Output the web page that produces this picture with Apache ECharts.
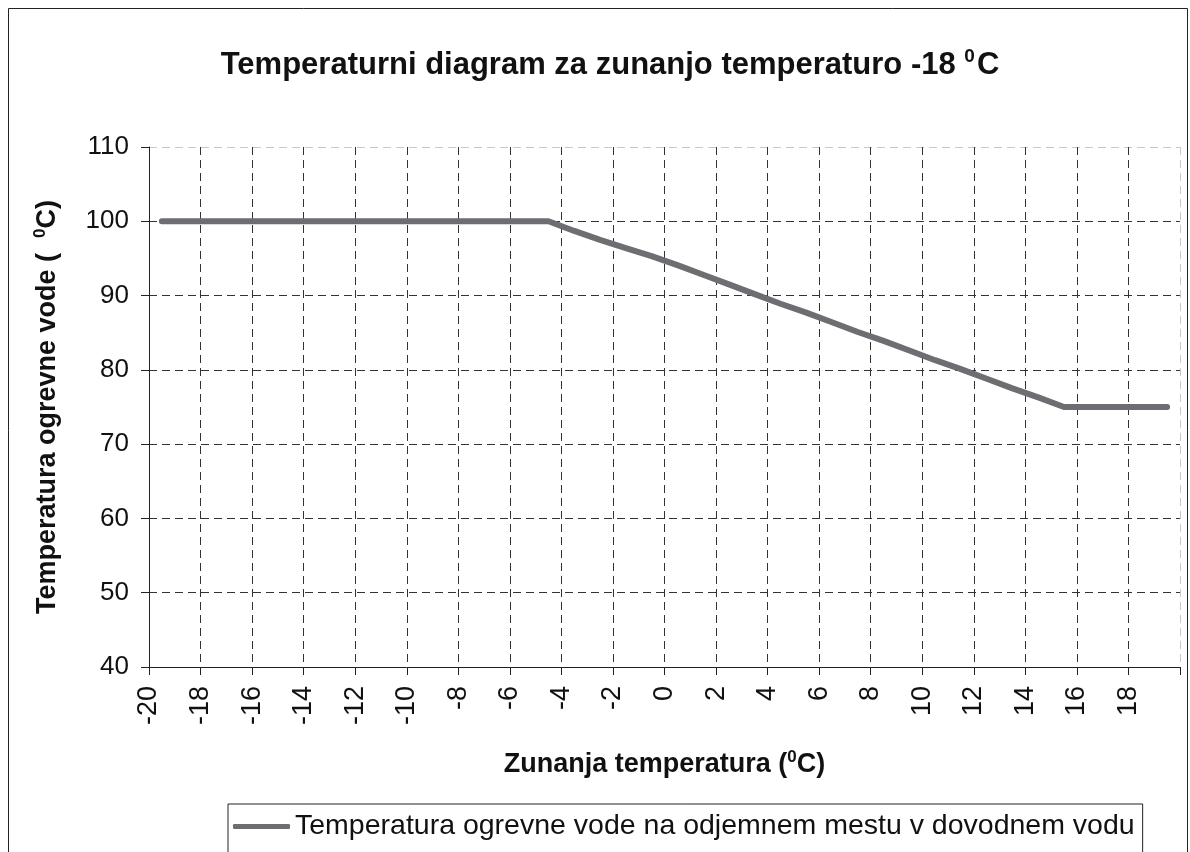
<!DOCTYPE html>
<html>
<head>
<meta charset="utf-8">
<script src="https://cdn.jsdelivr.net/npm/echarts@6/dist/echarts.min.js"></script>
<style>
  html, body { margin: 0; padding: 0; background: #fff; }
  #main { width: 1190px; height: 852px; }
</style>
</head>
<body>
<div id="main"></div>
<script>
// zunanja temperatura (kategorije) in temperatura ogrevne vode
var outdoorTemps = [-20,-19,-18,-17,-16,-15,-14,-13,-12,-11,-10,-9,-8,-7,-6,-5,-4,-3,-2,-1,
                    0,1,2,3,4,5,6,7,8,9,10,11,12,13,14,15,16,17,18,19];
var waterTemps = [100,100,100,100,100,100,100,100,100,100,100,100,100,100,100,100,98.7,97.5,96.4,95.3,
                  94.1,92.8,91.5,90.2,88.9,87.7,86.4,85.1,83.9,82.6,81.3,80.1,78.8,77.5,76.3,75,75,75,75,75];
var xTicks = [-20,-18,-16,-14,-12,-10,-8,-6,-4,-2,0,2,4,6,8,10,12,14,16,18];
var yTicks = [40,50,60,70,80,90,100,110];

var seriesName = 'Temperatura ogrevne vode na odjemnem mestu v dovodnem vodu';
var font = '"Liberation Sans", Arial, sans-serif';

// zadnja mrezna crta je svetlejsa
function gridColors(n) {
    var c = [];
    for (var i = 0; i < n; i++) c.push(i === n - 1 ? '#c8c8c8' : '#333');
    return c;
}

var option = {
    animation: false,
    backgroundColor: '#fff',
    textStyle: { fontFamily: font, color: '#111' },
    title: {
        text: '{a|Temperaturni diagram za zunanjo temperaturo -18 }{s|0}{a|C}',
        left: 605,
        top: 42,
        textAlign: 'center',
        textStyle: {
            rich: {
                a: { fontFamily: font, fontSize: 31, fontWeight: 'bold', color: '#111' },
                s: { fontFamily: font, fontSize: 19, fontWeight: 'bold', color: '#111', padding: [0, 2, 18, 0] }
            }
        }
    },
    graphic: [{
        type: 'rect',
        shape: { x: 8.5, y: 8.5, width: 1179, height: 900 },
        style: { fill: 'none', stroke: '#222', lineWidth: 1 },
        silent: true
    }],
    grid: { left: 149, right: 10, top: 147, bottom: 185, containLabel: false },
    legend: {
        left: 228,
        top: 804,
        padding: [8, 8, 12, 5],
        borderColor: '#222',
        borderWidth: 1,
        icon: 'roundRect',
        itemWidth: 57,
        itemHeight: 5,
        textStyle: { fontFamily: font, fontSize: 28.5, color: '#111' },
        data: [seriesName]
    },
    xAxis: [{
        type: 'value',
        min: -20,
        max: 20,
        interval: 2,
        name: '{a|Zunanja temperatura (}{s|0}{a|C)}',
        nameLocation: 'middle',
        nameGap: 82,
        nameTextStyle: {
            rich: {
                a: { fontFamily: font, fontSize: 27, fontWeight: 'bold', color: '#111' },
                s: { fontFamily: font, fontSize: 17, fontWeight: 'bold', color: '#111', padding: [0, 0, 14, 0] }
            }
        },
        axisLine: { onZero: false, lineStyle: { color: '#222', width: 1 } },
        axisTick: { show: true, length: 8, lineStyle: { color: '#222' } },
        axisLabel: {
            rotate: 90,
            margin: 19,
            fontSize: 27,
            color: '#111',
            formatter: function (v) { return xTicks.indexOf(v) >= 0 ? String(v) : ''; }
        },
        splitLine: { show: true, lineStyle: { type: [8, 5], width: 1, color: gridColors(21) } }
    }, {
        type: 'category',
        data: outdoorTemps,
        boundaryGap: true,
        show: false
    }],
    yAxis: {
        type: 'value',
        min: yTicks[0],
        max: yTicks[yTicks.length - 1],
        interval: 10,
        name: '{a|Temperatura ogrevne vode (  }{s|0}{a|C)}',
        nameLocation: 'middle',
        nameGap: 86,
        nameTextStyle: {
            rich: {
                a: { fontFamily: font, fontSize: 27, fontWeight: 'bold', color: '#111' },
                s: { fontFamily: font, fontSize: 17, fontWeight: 'bold', color: '#111', padding: [0, 0, 14, 0] }
            }
        },
        axisLine: { show: true, onZero: false, lineStyle: { color: '#222', width: 1 } },
        axisTick: { show: true, length: 8, lineStyle: { color: '#222' } },
        axisLabel: { margin: 20, fontSize: 26, color: '#111' },
        splitLine: { show: true, lineStyle: { type: [8, 5], width: 1, color: gridColors(yTicks.length) } }
    },
    series: [{
        name: seriesName,
        type: 'line',
        xAxisIndex: 1,
        data: waterTemps,
        symbol: 'none',
        lineStyle: { color: '#6d6e71', width: 6, cap: 'round', join: 'round' },
        itemStyle: { color: '#6d6e71' }
    }]
};

var chart = echarts.init(document.getElementById('main'));
chart.setOption(option);
</script>
</body>
</html>
